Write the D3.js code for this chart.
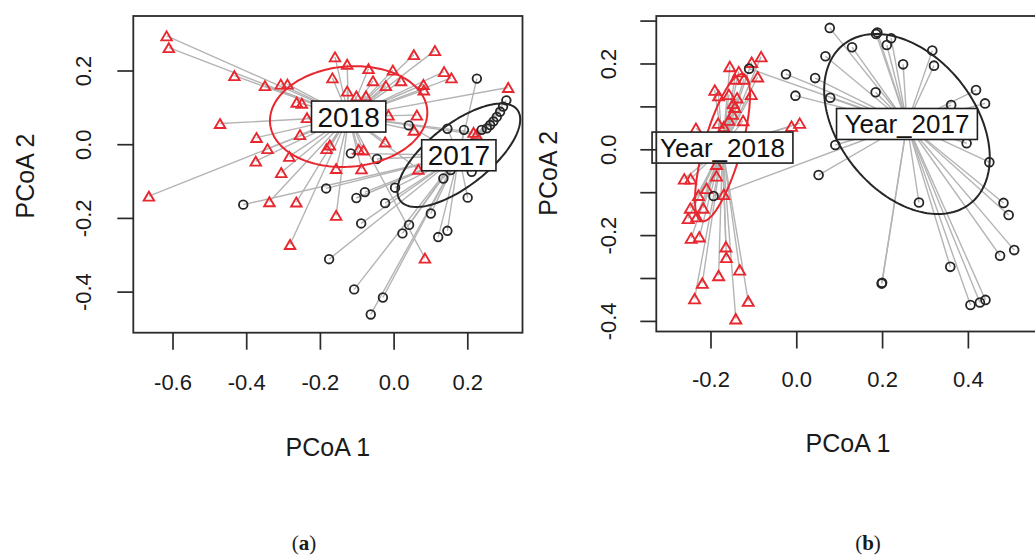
<!DOCTYPE html>
<html>
<head>
<meta charset="utf-8">
<script src="https://cdn.jsdelivr.net/npm/d3@7"></script>
<style>
  body { margin: 0; background: #fff; }
  svg { display: block; }
  text { font-family: "Liberation Sans", Arial, sans-serif; fill: #1a1a1a; }
</style>
</head>
<body>
<svg id="fig" width="1035" height="557"></svg>
<script>
// ---------- Panel (a): PCoA scores by sampling year ----------
const a2018X = [-0.616,-0.610,-0.432,-0.349,-0.306,-0.288,-0.263,-0.249,-0.471,-0.235,-0.372,-0.254,-0.342,-0.374,-0.283,-0.305,-0.664,-0.337,-0.264,-0.281,
  -0.159,-0.126,0.055,0.112,-0.068,-0.002,-0.166,-0.056,-0.021,0.020,-0.126,-0.101,-0.075,0.137,0.157,0.081,0.082,0.311,-0.014,0.063,0.055,-0.023,-0.182,-0.173,-0.095,-0.082,-0.156,-0.087,0.067,0.217,0.225,-0.156,0.085];
const a2018Y = [0.294,0.262,0.186,0.159,0.163,0.163,0.114,0.111,0.056,0.072,0.018,0.026,-0.012,-0.046,-0.033,-0.077,-0.141,-0.156,-0.157,-0.272,
  0.237,0.217,0.243,0.254,0.205,0.201,0.180,0.172,0.159,0.172,0.144,0.131,0.131,0.197,0.180,0.162,0.147,0.154,0.079,0.079,0.038,0.006,-0.012,-0.002,-0.014,-0.016,-0.066,-0.067,-0.068,0.032,0.026,-0.193,-0.309];
const a2017X = [0.226,0.306,0.297,0.289,0.280,0.271,0.262,0.253,0.239,0.041,0.146,0.191,-0.116,-0.045,-0.183,0.004,-0.101,-0.078,-0.023,0.135,0.155,0.212,0.201,0.101,-0.088,0.042,0.024,0.121,0.146,-0.175,-0.107,-0.029,-0.062,-0.408];
const a2017Y = [0.178,0.119,0.102,0.088,0.074,0.062,0.052,0.043,0.039,0.051,0.042,0.039,-0.025,-0.040,-0.120,-0.118,-0.146,-0.130,-0.160,-0.093,-0.070,-0.075,-0.145,-0.188,-0.215,-0.219,-0.242,-0.252,-0.235,-0.312,-0.394,-0.416,-0.462,-0.164];
const aGroups = ["2018", "2017"];
const aCentX = [-0.122, 0.177];
const aCentY = [0.075, -0.030];
const aEllA = [0.214, 0.201];       // semi-major axis
const aEllB = [0.136, 0.084];       // semi-minor axis
const aEllAngle = [5, 38];          // degrees, counter-clockwise
const aXTicks = [-0.6, -0.4, -0.2, 0.0, 0.2];
const aYTicks = [-0.4, -0.2, 0.0, 0.2];

// ---------- Panel (b): PCoA scores by sampling year ----------
const b2018X = [-0.082,-0.104,-0.155,-0.134,-0.143,-0.122,-0.090,-0.190,-0.181,-0.157,-0.138,-0.105,-0.143,-0.149,-0.157,-0.124,-0.182,-0.169,-0.234,-0.011,0.008,
  -0.186,-0.186,-0.261,-0.246,-0.209,-0.169,-0.228,-0.247,-0.217,-0.252,-0.232,-0.245,-0.226,-0.164,-0.163,-0.181,-0.132,-0.219,-0.237,-0.112,-0.141,-0.147];
const b2018Y = [0.216,0.203,0.193,0.181,0.164,0.164,0.169,0.138,0.125,0.128,0.120,0.128,0.098,0.082,0.068,0.067,0.061,0.053,0.049,0.054,0.061,
  -0.035,-0.062,-0.069,-0.069,-0.091,-0.105,-0.107,-0.137,-0.137,-0.161,-0.157,-0.207,-0.204,-0.227,-0.252,-0.294,-0.281,-0.312,-0.348,-0.354,-0.395,0.107];
const b2017X = [-0.110,-0.193,0.078,0.068,-0.024,0.044,-0.002,0.079,0.091,0.052,0.186,0.189,0.221,0.211,0.130,0.317,0.249,0.321,0.185,0.419,0.440,0.361,0.397,0.450,0.286,0.483,0.495,0.508,0.475,0.359,0.200,0.199,0.406,0.428,0.441];
const b2017Y = [0.188,-0.109,0.283,0.217,0.175,0.166,0.125,0.120,0.010,-0.060,0.269,0.272,0.259,0.243,0.238,0.230,0.198,0.195,0.133,0.138,0.107,0.103,0.014,-0.030,-0.124,-0.125,-0.153,-0.235,-0.248,-0.274,-0.311,-0.313,-0.363,-0.357,-0.351];
const bGroups = ["Year_2018", "Year_2017"];
const bCentX = [-0.172, 0.258];
const bCentY = [0.004, 0.059];
const bEllA = [0.178, 0.237];
const bEllB = [0.0436, 0.1585];
const bEllAngle = [74.2, -51.3];
const bXTicks = [-0.2, 0.0, 0.2, 0.4];
const bYTicks = [-0.4, -0.3, -0.2, -0.1, 0.0, 0.1, 0.2, 0.3];
const bYLabelled = [-0.4, -0.2, 0.0, 0.2];

const RED = "#e8272f", BLACK = "#262626", SPIDER = "#b4b4b4";
const svg = d3.select("#fig");
svg.append("rect").attr("width", 1035).attr("height", 557).attr("fill", "#fff");

function panel(cfg) {
  const x = d3.scaleLinear().domain(cfg.xDomain).range(cfg.xRange);
  const y = d3.scaleLinear().domain(cfg.yDomain).range(cfg.yRange);
  const g = svg.append("g");
  const clipId = "clip-" + cfg.id;
  g.append("clipPath").attr("id", clipId).append("rect")
    .attr("x", cfg.xRange[0]).attr("y", cfg.yRange[1])
    .attr("width", cfg.xRange[1] - cfg.xRange[0]).attr("height", cfg.yRange[0] - cfg.yRange[1]);
  const plot = g.append("g").attr("clip-path", `url(#${clipId})`);

  const groups = [
    { xs: cfg.newX, ys: cfg.newY, cx: cfg.centX[0], cy: cfg.centY[0], shape: "tri", col: RED },
    { xs: cfg.oldX, ys: cfg.oldY, cx: cfg.centX[1], cy: cfg.centY[1], shape: "circ", col: BLACK }
  ];

  // spider segments from every sample to its group centroid
  groups.forEach(gr => {
    plot.append("g").selectAll("line").data(d3.range(gr.xs.length)).join("line")
      .attr("x1", i => x(gr.xs[i])).attr("y1", i => y(gr.ys[i]))
      .attr("x2", x(gr.cx)).attr("y2", y(gr.cy))
      .attr("stroke", SPIDER).attr("stroke-width", 1.4);
  });

  // sample markers
  const tw = cfg.triW, th = cfg.triH;
  const tri = `M0,${-th / 2}L${tw / 2},${th / 2}L${-tw / 2},${th / 2}Z`;
  groups.forEach(gr => {
    const sel = plot.append("g").selectAll("path").data(d3.range(gr.xs.length)).join("path")
      .attr("transform", i => `translate(${x(gr.xs[i])},${y(gr.ys[i])})`)
      .attr("fill", "none").attr("stroke", gr.col);
    if (gr.shape === "tri") sel.attr("d", tri).attr("stroke-width", 1.9).attr("stroke-linejoin", "miter");
    else sel.attr("d", d3.arc()({ innerRadius: 0, outerRadius: cfg.circR, startAngle: 0, endAngle: 2 * Math.PI })).attr("stroke-width", 1.8);
  });

  // dispersion ellipses around the centroids
  const ellLine = d3.line().curve(d3.curveLinearClosed);
  [0, 1].forEach(k => {
    const th0 = cfg.ellAngle[k] * Math.PI / 180;
    const pts = d3.range(0, 2 * Math.PI, Math.PI / 90).map(t => {
      const u = cfg.ellA[k] * Math.cos(t), v = cfg.ellB[k] * Math.sin(t);
      return [x(cfg.centX[k] + u * Math.cos(th0) - v * Math.sin(th0)),
              y(cfg.centY[k] + u * Math.sin(th0) + v * Math.cos(th0))];
    });
    plot.append("path").attr("d", ellLine(pts)).attr("fill", "none")
      .attr("stroke", k === 0 ? RED : BLACK).attr("stroke-width", 2);
  });

  // group labels at the centroids
  [0, 1].forEach(k => {
    const lg = g.append("g").attr("transform", `translate(${x(cfg.centX[k])},${y(cfg.centY[k])})`);
    const rect = lg.append("rect");
    const t = lg.append("text").text(cfg.groups[k]).attr("text-anchor", "middle")
      .attr("dy", "0.36em").style("font-size", cfg.labelSize + "px").style("fill", "#111");
    const w = t.node().getComputedTextLength() + 2 * cfg.labelPad, h = 31;
    rect.attr("x", -w / 2).attr("y", -h / 2).attr("width", w).attr("height", h)
      .attr("fill", "#fff").attr("stroke", "#1e1e1e").attr("stroke-width", 1.6);
  });

  // frame
  g.append("rect").attr("x", cfg.xRange[0]).attr("y", cfg.yRange[1])
    .attr("width", cfg.xRange[1] - cfg.xRange[0]).attr("height", cfg.yRange[0] - cfg.yRange[1])
    .attr("fill", "none").attr("stroke", "#2a2a2a").attr("stroke-width", 1.8);

  // axes
  const fmt = d => d.toFixed(1);
  const xa = g.append("g").attr("transform", `translate(0,${cfg.yRange[0]})`)
    .call(d3.axisBottom(x).tickValues(cfg.xTicks).tickSize(17).tickFormat(fmt));
  xa.select(".domain").remove();
  xa.selectAll("line").attr("stroke", "#2a2a2a").attr("stroke-width", 1.7);
  xa.selectAll("text").attr("y", cfg.xLabOff).attr("dy", "0.36em")
    .style("font-size", "22px").style("font-family", '"Liberation Sans", Arial, sans-serif').attr("fill", "#1a1a1a");

  const ya = g.append("g").attr("transform", `translate(${cfg.xRange[0]},0)`)
    .call(d3.axisLeft(y).tickValues(cfg.yTicks).tickSize(16)
      .tickFormat(d => cfg.yLabelled.some(v => Math.abs(v - d) < 1e-9) ? fmt(d) : ""));
  ya.select(".domain").remove();
  ya.selectAll("line").attr("stroke", "#2a2a2a").attr("stroke-width", 1.7);
  ya.selectAll("text").attr("x", null).attr("dy", "0.36em").attr("text-anchor", "middle")
    .attr("transform", `translate(${-cfg.yLabOff},0) rotate(-90)`)
    .style("font-size", "22px").style("font-family", '"Liberation Sans", Arial, sans-serif').attr("fill", "#1a1a1a");

  // axis titles
  svg.append("text").text("PCoA 1").attr("x", cfg.xTitle[0]).attr("y", cfg.xTitle[1])
    .attr("text-anchor", "middle").attr("dy", "0.36em").style("font-size", "25px");
  svg.append("text").text("PCoA 2").attr("text-anchor", "middle").attr("dy", "0.36em")
    .attr("transform", `translate(${cfg.yTitle[0]},${cfg.yTitle[1]}) rotate(-90)`).style("font-size", "25px");

  // panel caption, letter in bold
  const cap = svg.append("text").attr("x", cfg.capPos[0]).attr("y", cfg.capPos[1])
    .attr("text-anchor", "middle")
    .style("font-family", '"Liberation Serif", "Times New Roman", serif').style("font-size", "21px");
  cap.append("tspan").text("(");
  cap.append("tspan").text(cfg.caption).style("font-weight", "bold");
  cap.append("tspan").text(")");
}

panel({
  id: "a", newX: a2018X, newY: a2018Y, oldX: a2017X, oldY: a2017Y,
  groups: aGroups, centX: aCentX, centY: aCentY, ellA: aEllA, ellB: aEllB, ellAngle: aEllAngle,
  xTicks: aXTicks, yTicks: aYTicks, yLabelled: aYTicks,
  xDomain: [-0.7064, 0.3498], xRange: [133.3, 522.5],
  yDomain: [-0.5115, 0.3479], yRange: [332.7, 16],
  triW: 10.5, triH: 9, circR: 4.3, labelSize: 28, labelPad: 6,
  xLabOff: 49, yLabOff: 50, xTitle: [327.9, 447], yTitle: [25, 176], caption: "a", capPos: [304, 550]
});

panel({
  id: "b", newX: b2018X, newY: b2018Y, oldX: b2017X, oldY: b2017Y,
  groups: bGroups, centX: bCentX, centY: bCentY, ellA: bEllA, ellB: bEllB, ellAngle: bEllAngle,
  xTicks: bXTicks, yTicks: bYTicks, yLabelled: bYLabelled,
  xDomain: [-0.3263, 0.5681], xRange: [656.3, 1040],
  yDomain: [-0.4247, 0.3107], yRange: [331.5, 16],
  triW: 11, triH: 9.5, circR: 4.4, labelSize: 26, labelPad: 8,
  xLabOff: 48, yLabOff: 48, xTitle: [848, 443], yTitle: [548.3, 173.3], caption: "b", capPos: [868, 550]
});
</script>
</body>
</html>
